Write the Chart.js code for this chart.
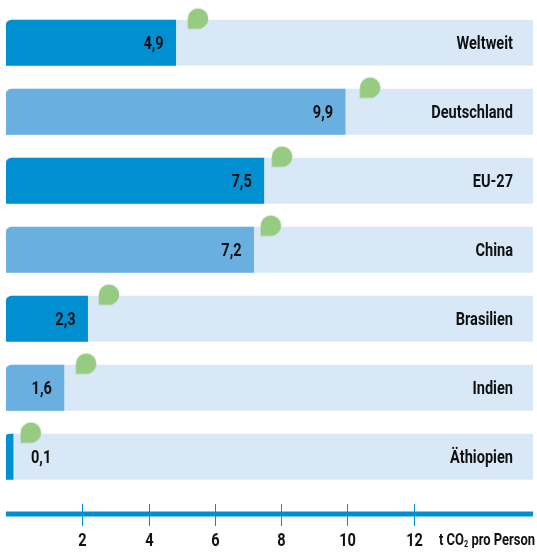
<!DOCTYPE html>
<html lang="de">
<head>
<meta charset="utf-8">
<title>t CO2 pro Person</title>
<script src="https://cdn.jsdelivr.net/npm/chart.js@4"></script>
<style>
    html, body { margin: 0; padding: 0; background: #fff; }
    canvas { display: block; }
</style>
</head>
<body>
<canvas id="myChart" width="537" height="552"></canvas>
<script>
'use strict';
let categories = ['Weltweit', 'Deutschland', 'EU-27', 'China', 'Brasilien', 'Indien', 'Äthiopien'];
let values = [4.9, 9.9, 7.5, 7.2, 2.3, 1.6, 0.1];
let barColors = ['#0090d2', '#69afe0', '#0090d2', '#69afe0', '#0090d2', '#69afe0', '#0090d2'];
// where the green drops sit, read against the printed axis
let dropValues = [5.49, 10.69, 8.03, 7.69, 2.80, 2.11, 0.44];
let tickValues = [2, 4, 6, 8, 10, 12];

let fontName = 'Roboto, sans-serif';
let textColor = '#111';
let axisColor = '#0090d2';
let squeeze = 0.81; // no condensed face installed, so the text is narrowed by hand

// the printed axis and the bars do not share a zero in the original
let barAxisMin = -0.109;
let barAxisMax = 15.446;

function dropImage() {
    let c = document.createElement('canvas');
    c.width = 22;
    c.height = 22;
    let ctx = c.getContext('2d');
    ctx.fillStyle = '#97cb82';
    ctx.beginPath();
    ctx.arc(11, 11, 10.3, -Math.PI, Math.PI / 2);
    ctx.lineTo(0.7, 21.3);
    ctx.closePath();
    ctx.fill();
    return c;
}

function drawText(ctx, text, x, y, align, size) {
    ctx.save();
    ctx.translate(x, y);
    ctx.scale(squeeze, 1);
    ctx.textAlign = align;
    ctx.textBaseline = 'middle';
    ctx.font = '700 ' + size + 'px ' + fontName;
    ctx.fillStyle = textColor;
    ctx.fillText(text, 0, 0);
    ctx.restore();
}

function textWidth(ctx, text, size) {
    ctx.font = '700 ' + size + 'px ' + fontName;
    return ctx.measureText(text).width * squeeze;
}

let labelPlugin = {
    id: 'labelPlugin',
    afterDraw(chart) {
        let ctx = chart.ctx;
        let bars = chart.getDatasetMeta(1).data;
        let xScale = chart.scales.x;
        let area = chart.chartArea;

        for (let i = 0; i < bars.length; i++) {
            let y = bars[i].y + 2;
            drawText(ctx, categories[i], 513, y, 'right', 18);
            let label = values[i].toFixed(1).replace('.', ',');
            if (values[i] < 1) {
                drawText(ctx, label, 31, y, 'left', 18);
            } else {
                drawText(ctx, label, bars[i].x - 12, y, 'right', 18);
            }
        }

        // axis line, with the ticks crossing it
        ctx.save();
        ctx.strokeStyle = axisColor;
        ctx.lineWidth = 5;
        ctx.beginPath();
        ctx.moveTo(area.left, area.bottom);
        ctx.lineTo(area.right, area.bottom);
        ctx.stroke();
        ctx.lineWidth = 1;
        for (let i = 0; i < tickValues.length; i++) {
            let x = Math.round(xScale.getPixelForValue(tickValues[i])) + 0.5;
            ctx.beginPath();
            ctx.moveTo(x, area.bottom - 10);
            ctx.lineTo(x, area.bottom + 12);
            ctx.stroke();
            drawText(ctx, String(tickValues[i]), x, 541, 'center', 18);
        }
        ctx.restore();

        // unit label with the subscript
        let x = 439;
        drawText(ctx, 't CO', x, 541, 'left', 16);
        x += textWidth(ctx, 't CO', 16);
        drawText(ctx, '2', x, 545, 'left', 9);
        x += textWidth(ctx, '2', 9);
        drawText(ctx, ' pro Person', x, 541, 'left', 16);
    }
};

let ctx = document.getElementById('myChart').getContext('2d');
let myChart = new Chart(ctx, {
    data: {
        datasets: [{
            type: 'scatter',
            data: dropValues.map((v, i) => ({ x: v, y: i - 0.35 })),
            xAxisID: 'x',
            yAxisID: 'y',
            pointStyle: dropImage(),
            pointRadius: 11,
            showLine: false,
            clip: false,
            order: 0
        }, {
            type: 'bar',
            indexAxis: 'y',
            data: values.map((v, i) => ({ x: v, y: i })),
            xAxisID: 'xBar',
            yAxisID: 'y',
            base: barAxisMin,
            grouped: false,
            barThickness: 45.5,
            backgroundColor: barColors,
            borderSkipped: false,
            borderRadius: { topLeft: 6, topRight: 0, bottomLeft: 0, bottomRight: 0 },
            order: 1
        }, {
            type: 'bar',
            indexAxis: 'y',
            data: values.map((v, i) => ({ x: barAxisMax, y: i })),
            xAxisID: 'xBar',
            yAxisID: 'y',
            base: barAxisMin,
            grouped: false,
            barThickness: 45.5,
            backgroundColor: '#d9e8f7',
            borderSkipped: false,
            borderRadius: { topLeft: 6, topRight: 0, bottomLeft: 0, bottomRight: 0 },
            order: 2
        }]
    },
    options: {
        responsive: false,
        animation: false,
        layout: { autoPadding: false, padding: { top: 8.25, left: 6, right: 4, bottom: 0 } },
        plugins: {
            legend: { display: false },
            tooltip: { enabled: false }
        },
        scales: {
            x: {
                type: 'linear',
                position: 'bottom',
                min: -0.311,
                max: 15.61,
                afterBuildTicks(scale) {
                    scale.ticks = tickValues.map(v => ({ value: v }));
                },
                afterFit(scale) {
                    scale.height = 38;
                },
                grid: { display: false },
                border: { display: false },
                ticks: { display: false }
            },
            xBar: {
                type: 'linear',
                display: false,
                min: barAxisMin,
                max: barAxisMax
            },
            y: {
                type: 'linear',
                display: false,
                offset: false,
                reverse: true,
                min: -0.5,
                max: 6.83
            }
        }
    },
    plugins: [labelPlugin]
});
</script>
</body>
</html>
